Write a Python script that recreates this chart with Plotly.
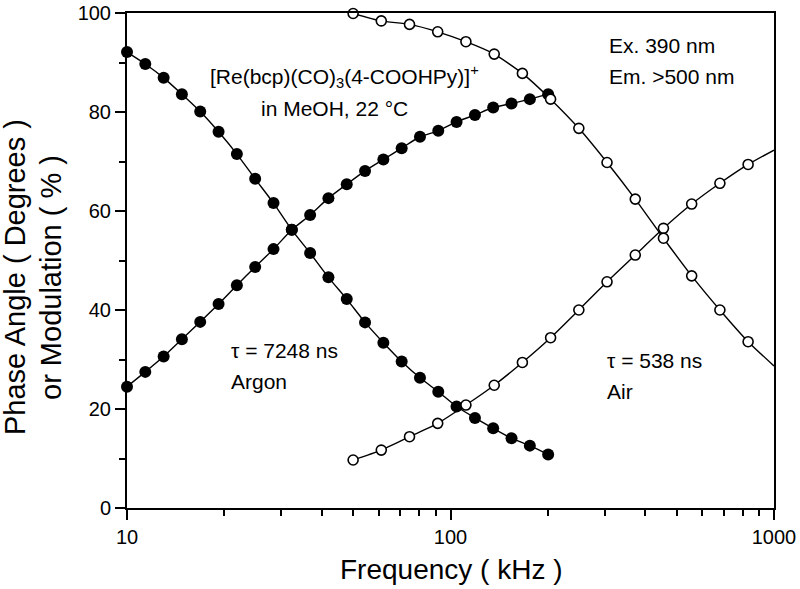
import plotly.graph_objects as go

# Argon (filled circles), frequencies in kHz
argon_freq = [10.0, 11.39, 12.98, 14.78, 16.84, 19.19, 21.86, 24.90, 28.37, 32.32, 36.82, 41.94,
              47.78, 54.43, 62.01, 70.64, 80.47, 91.67, 104.4, 119.0, 135.5, 154.4, 175.9, 200.4]
argon_phase = [24.5, 27.5, 30.6, 34.1, 37.6, 41.2, 45.0, 48.7, 52.3, 56.2, 59.2, 62.6,
               65.4, 68.1, 70.4, 72.7, 75.0, 76.2, 78.0, 79.4, 80.9, 81.7, 82.6, 83.6]
argon_mod = [92.1, 89.7, 86.9, 83.6, 80.1, 76.0, 71.5, 66.5, 61.6, 56.2, 51.5, 46.6,
             42.2, 37.5, 33.4, 29.6, 26.3, 23.5, 20.5, 18.2, 16.1, 14.1, 12.6, 10.8]

# Air (open circles)
air_freq = [50.0, 61.1, 74.7, 91.3, 111.6, 136.5, 166.8, 203.9, 249.3, 304.7, 372.5,
            455.3, 556.6, 680.4, 831.7]
air_phase = [9.7, 11.7, 14.4, 17.1, 20.8, 24.8, 29.4, 34.4, 40.0, 45.7, 51.1,
             56.5, 61.4, 65.6, 69.4]
air_mod = [99.9, 98.4, 97.7, 96.2, 94.2, 91.7, 87.8, 82.6, 76.7, 69.8, 62.4,
           54.5, 46.9, 40.0, 33.6]

# fitted curve end values at 1000 kHz
fit_end_freq = 1000
air_phase_end = 72.3
air_mod_end = 28.7

x_ticks = [10, 100, 1000]
y_ticks = [0, 20, 40, 60, 80, 100]

FONT = "Liberation Sans, Arial, sans-serif"
line_style = dict(color="black", width=1.4, shape="spline", smoothing=0.6)

fig = go.Figure()

# fit lines
fig.add_trace(go.Scatter(x=argon_freq, y=argon_phase, mode="lines", line=line_style, hoverinfo="skip"))
fig.add_trace(go.Scatter(x=argon_freq, y=argon_mod, mode="lines", line=line_style, hoverinfo="skip"))
fig.add_trace(go.Scatter(x=air_freq + [fit_end_freq], y=air_phase + [air_phase_end], mode="lines",
                         line=line_style, hoverinfo="skip", cliponaxis=False))
fig.add_trace(go.Scatter(x=air_freq + [fit_end_freq], y=air_mod + [air_mod_end], mode="lines",
                         line=line_style, hoverinfo="skip", cliponaxis=False))

# markers
filled = dict(symbol="circle", size=12, color="black", line=dict(color="black", width=0))
opened = dict(symbol="circle", size=10, color="white", line=dict(color="black", width=1.6))
fig.add_trace(go.Scatter(x=argon_freq, y=argon_phase, mode="markers", marker=filled, cliponaxis=False))
fig.add_trace(go.Scatter(x=argon_freq, y=argon_mod, mode="markers", marker=filled, cliponaxis=False))
fig.add_trace(go.Scatter(x=air_freq, y=air_phase, mode="markers", marker=opened, cliponaxis=False))
fig.add_trace(go.Scatter(x=air_freq, y=air_mod, mode="markers", marker=opened, cliponaxis=False))

W, H = 800, 589
# plot area in page pixels
L, R, T, B = 127, 774, 13, 508


def px(xp):
    return (xp - L) / (R - L)


def py(yp):
    return (B - yp) / (B - T)


ann_font = dict(family=FONT, size=21, color="black")


def ann(text, x, y, **kw):
    opts = dict(xanchor="left", yanchor="middle", font=ann_font, align="left")
    opts.update(kw)
    fig.add_annotation(text=text, x=px(x), y=py(y), xref="paper", yref="paper", showarrow=False, **opts)


ann("[Re(bcp)(CO)<sub>3</sub>(4-COOHPy)]<sup>+</sup>", 208, 76)
ann("in MeOH, 22 °C", 259, 108)
ann("Ex. 390 nm", 607, 46)
ann("Em. >500 nm", 607, 76)
ann("τ = 7248 ns", 229, 350)
ann("Argon", 229, 381)
ann("τ = 538 ns", 605, 360)
ann("Air", 605, 391)

# axis titles
title_font = dict(family=FONT, size=29, color="black")
ann("Phase Angle ( Degrees )", 15, 277, xanchor="center", align="center", textangle=-90, font=title_font)
ann("or Modulation ( % )", 51, 278, xanchor="center", align="center", textangle=-90, font=title_font)
ann("Frequency ( kHz )", 451, 569, xanchor="center", align="center",
    font=dict(family=FONT, size=28, color="black"))

fig.update_layout(
    width=W, height=H,
    margin=dict(l=L, r=W - R, t=T, b=H - B, autoexpand=False),
    paper_bgcolor="white", plot_bgcolor="white",
    showlegend=False,
    font=dict(family=FONT, color="black"),
    xaxis=dict(
        type="log", range=[1, 3], tickvals=x_ticks, ticktext=[str(v) for v in x_ticks],
        showgrid=False, zeroline=False, automargin=False, ticklabeloverflow="allow",
        showline=True, linecolor="black", linewidth=2, mirror=True,
        ticks="outside", ticklen=10, tickwidth=2, tickcolor="black",
        minor=dict(ticks="outside", ticklen=6, tickwidth=1.5, tickcolor="black", dtick="D1", showgrid=False),
        tickfont=dict(size=20, family=FONT),
    ),
    yaxis=dict(
        range=[0, 100], tickvals=y_ticks, showgrid=False, zeroline=False, automargin=False,
        ticklabeloverflow="allow",
        showline=True, linecolor="black", linewidth=2, mirror=True,
        ticks="outside", ticklen=10, tickwidth=2, tickcolor="black",
        minor=dict(ticks="outside", ticklen=6, tickwidth=1.5, tickcolor="black", dtick=10, showgrid=False),
        tickfont=dict(size=20, family=FONT),
    ),
)

# remove the browser's default page margin so the figure sits at the window's corner
fig.write_html("out.html", config={"displayModeBar": False},
               post_script="document.body.style.margin='0';document.body.style.overflow='hidden';")
